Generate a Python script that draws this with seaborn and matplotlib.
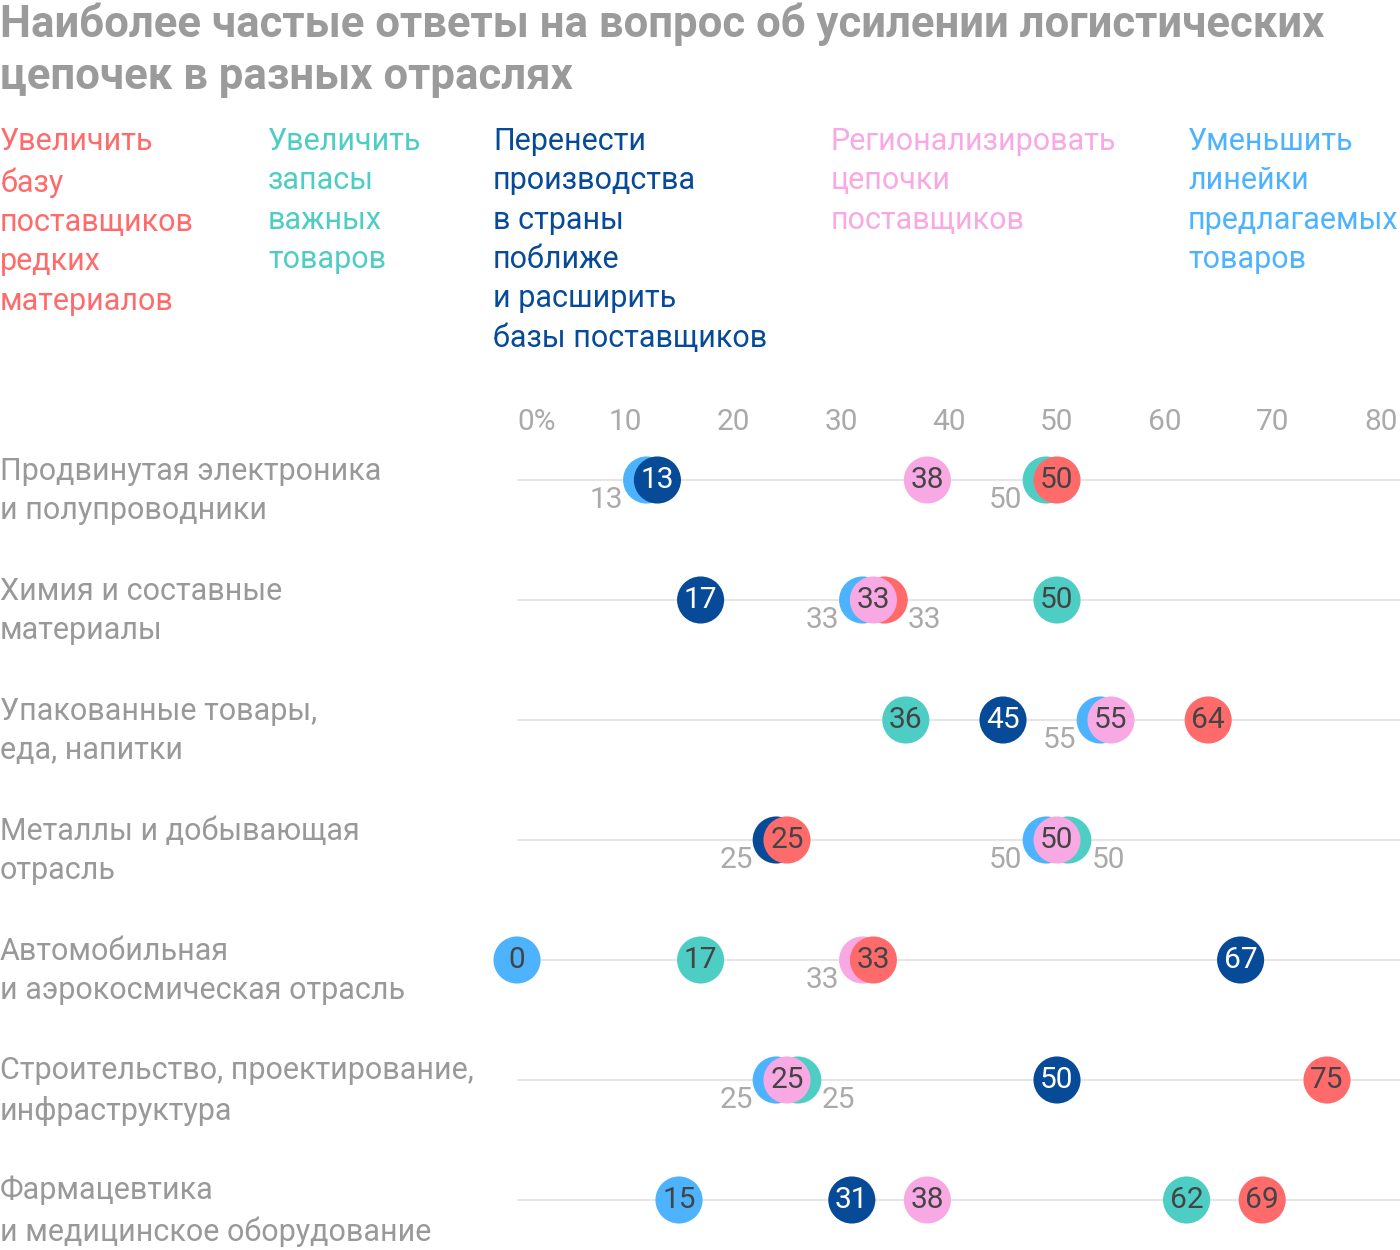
import matplotlib
matplotlib.use("Agg")
import matplotlib.pyplot as plt
import pandas as pd
import seaborn as sns

# --- data ---
industries = [
    "Продвинутая электроника\nи полупроводники",
    "Химия и составные\nматериалы",
    "Упакованные товары,\nеда, напитки",
    "Металлы и добывающая\nотрасль",
    "Автомобильная\nи аэрокосмическая отрасль",
    "Строительство, проектирование,\nинфраструктура",
    "Фармацевтика\nи медицинское оборудование",
]
answers = [
    "Увеличить\nбазу\nпоставщиков\nредких\nматериалов",
    "Увеличить\nзапасы\nважных\nтоваров",
    "Перенести\nпроизводства\nв страны\nпоближе\nи расширить\nбазы поставщиков",
    "Регионализировать\nцепочки\nпоставщиков",
    "Уменьшить\nлинейки\nпредлагаемых\nтоваров",
]
rare_materials = [50, 33, 64, 25, 33, 75, 69]
key_stock = [50, 50, 36, 50, 17, 25, 62]
nearshoring = [13, 17, 45, 25, 67, 50, 31]
regionalize = [38, 33, 55, 50, 33, 25, 38]
reduce_lines = [13, 33, 55, 50, 0, 25, 15]
x_ticks = [0, 10, 20, 30, 40, 50, 60, 70, 80]
x_ticklabels = ["0%", "10", "20", "30", "40", "50", "60", "70", "80"]

palette = ["#FF6B6B", "#4ECDC4", "#064A98", "#F8A9E4", "#4DB3FF"]

# dots hidden behind an equal value: (row, answer index) -> side
behind = {(0, 4): -1, (0, 1): -1, (1, 4): -1, (1, 0): 1, (2, 4): -1,
          (3, 2): -1, (3, 4): -1, (3, 1): 1, (4, 3): -1, (5, 4): -1, (5, 1): 1}

series = [rare_materials, key_stock, nearshoring, regionalize, reduce_lines]
rows = []
for j, vals in enumerate(series):
    for i, v in enumerate(vals):
        side = behind.get((i, j), 0)
        rows.append({"row": i, "answer": answers[j], "value": v,
                     "side": side, "pos": v + side * 1.0, "back": side != 0})
df = pd.DataFrame(rows).sort_values("back", ascending=False, kind="stable")

# --- figure ---
sns.set_style("white")
plt.rcParams["font.family"] = ["Roboto", "DejaVu Sans"]

W, H = 1400, 1250
fig = plt.figure(figsize=(14, 12.5), dpi=100)
px_per_unit = 10.8
ax_left, ax_top = 517, 440
ax = fig.add_axes([ax_left / W, 0, (W - ax_left) / W, (H - ax_top) / H])

sns.scatterplot(data=df, x="pos", y="row", hue="answer", hue_order=answers,
                palette=palette, s=1150, linewidth=0, legend=False,
                ax=ax, zorder=3)
for coll in ax.collections:
    coll.set_clip_on(False)

ax.set_xlim(0, (W - ax_left) / px_per_unit)
ax.set_ylim(6 + 50 / 120, -40 / 120)
ax.set_yticks(range(len(industries)))
ax.set_yticklabels([])
ax.tick_params(axis="y", length=0)
ax.grid(axis="y", color="#e6e6e6", linewidth=1.5, zorder=0)
ax.grid(axis="x", visible=False)
ax.xaxis.tick_top()
ax.set_xticks(x_ticks)
ax.set_xticklabels(x_ticklabels)
ax.tick_params(axis="x", length=0, pad=3, labelsize=21.5, labelcolor="#aaaaaa")
ax.get_xticklabels()[0].set_horizontalalignment("left")
ax.set_xlabel("")
ax.set_ylabel("")
sns.despine(ax=ax, left=True, bottom=True, top=True, right=True)

# value labels
r_units = 23.5 / px_per_unit
for _, d in df.iterrows():
    if not d["back"]:
        col = "white" if d["answer"] == answers[2] else "#444444"
        ax.text(d["pos"], d["row"], str(d["value"]), ha="center", va="center",
                fontsize=21.5, color=col, zorder=5)
    else:
        if d["side"] < 0:
            ax.text(d["pos"] - r_units, d["row"] + 0.17, str(d["value"]),
                    ha="right", va="center", fontsize=21.5, color="#aaaaaa", zorder=5)
        else:
            ax.text(d["pos"] + r_units, d["row"] + 0.17, str(d["value"]),
                    ha="left", va="center", fontsize=21.5, color="#aaaaaa", zorder=5)

# row labels
for i, name in enumerate(industries):
    fig.text(0, 1 - (491 + 120 * i) / H, name, ha="left", va="center",
             fontsize=22, color="#999999", linespacing=1.45)

# answer headers
head_x = [0, 268, 493, 831, 1188]
for x, txt, c in zip(head_x, answers, palette):
    fig.text(x / W, 1 - 127 / H, txt, ha="left", va="top", fontsize=22,
             color=c, linespacing=1.45)

fig.text(0, 1 - 3 / H,
         "Наиболее частые ответы на вопрос об усилении логистических\n"
         "цепочек в разных отраслях",
         ha="left", va="top", fontsize=31.5, fontweight="bold", color="#9b9b9b",
         linespacing=1.28, family=["Roboto", "DejaVu Sans"])

fig.savefig("out.png", dpi=100)
